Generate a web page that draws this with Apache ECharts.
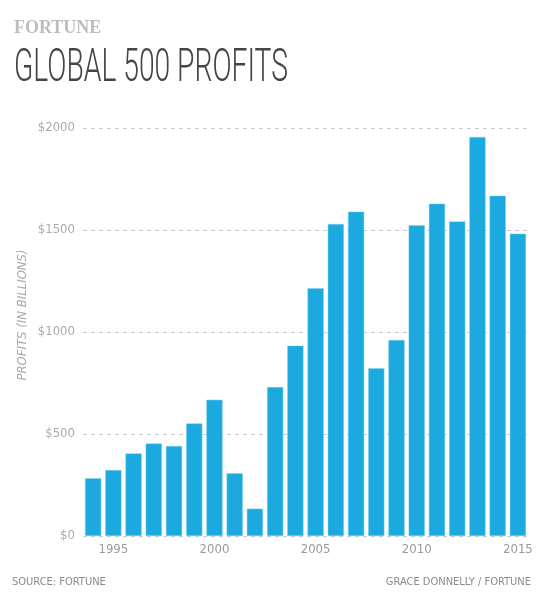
<!DOCTYPE html>
<html><head><meta charset="utf-8">
<script src="https://cdn.jsdelivr.net/npm/echarts@6/dist/echarts.min.js"></script>
<style>html,body{margin:0;padding:0;background:#fff}#c{width:545px;height:600px}</style>
</head><body><div id="c"></div>
<script>
const years = ['1994','1995','1996','1997','1998','1999','2000','2001','2002','2003','2004','2005','2006','2007','2008','2009','2010','2011','2012','2013','2014','2015'];
const profits = [283,323,405,454,441,552,668,307,134,730,933,1214,1529,1590,822,961,1523,1629,1542,1956,1668,1482];
const yTicks = [0,500,1000,1500,2000];

const COND = "'DejaVu Sans Condensed', 'DejaVu Sans', sans-serif";
const titleText = 'GLOBAL 500 PROFITS';
const titleFont = '300 46px Roboto';
const ctx = document.createElement('canvas').getContext('2d');
ctx.font = titleFont;
const titleScale = 274 / ctx.measureText(titleText).width;

const chart = echarts.init(document.getElementById('c'));
chart.setOption({
  backgroundColor:'#fff',
  animation:false,
  graphic:[
    {type:'text',x:14,y:46,scaleX:titleScale,style:{text:titleText,font:titleFont,fill:'#454545',verticalAlign:'top'}},
    {type:'text',x:14,y:19,style:{text:'FORTUNE',font:'bold 18px "Liberation Serif"',fill:'#bdbdbd',verticalAlign:'top'}},
    {type:'text',x:23,y:315,rotation:Math.PI/2,style:{text:'PROFITS (IN BILLIONS)',font:'italic 13px '+COND,fill:'#aaaaaa',align:'center',verticalAlign:'middle'}},
    {type:'text',x:12,y:577,style:{text:'SOURCE: FORTUNE',font:'11px '+COND,fill:'#8a8a8a',verticalAlign:'top'}},
    {type:'text',x:531,y:577,style:{text:'GRACE DONNELLY / FORTUNE',font:'11px '+COND,fill:'#8a8a8a',align:'right',verticalAlign:'top'}}
  ],
  grid:{left:83,right:17,top:128,bottom:64},
  xAxis:{
    type:'category',data:years,
    axisLine:{show:false},axisTick:{show:false},
    axisLabel:{interval:function(i,v){return (+v)%5===0;},color:'#9a9a9a',fontFamily:COND,fontSize:13,margin:7}
  },
  yAxis:{
    type:'value',min:yTicks[0],max:yTicks[yTicks.length-1],interval:500,
    axisLine:{show:false},axisTick:{show:false},
    axisLabel:{formatter:function(v){return '$'+v;},color:'#aaa',fontFamily:COND,fontSize:13,margin:8},
    splitLine:{lineStyle:{type:[4,4],color:'#cccccc',width:1}}
  },
  series:[{
    type:'bar',data:profits,barCategoryGap:'20%',
    itemStyle:{color:'#1ba9df',borderColor:'#7fd0ef',borderWidth:0.5}
  }]
});
</script></body></html>
